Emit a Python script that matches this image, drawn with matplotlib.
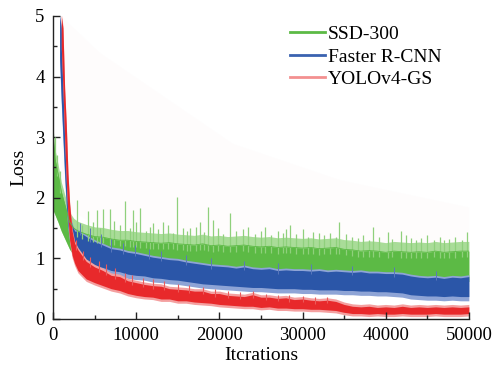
import numpy as np
import matplotlib
matplotlib.use("Agg")
import matplotlib.pyplot as plt
from matplotlib.lines import Line2D
from matplotlib.ticker import MultipleLocator

plt.rcParams['font.family'] = ['Liberation Serif', 'DejaVu Serif']

# --- DATA ---
grid = list(range(3000, 50001, 1000))

# YOLOv4-GS band
red_it = [1000, 1200, 1400, 1600, 1800, 2000, 2300, 2600] + grid
red_lo = [4.5, 3.8, 3.0, 2.3, 1.7, 1.3, 1.05, 0.92,
          0.80, 0.66, 0.60, 0.55, 0.50, 0.47, 0.42, 0.39, 0.37, 0.36, 0.33, 0.33,
          0.30, 0.30, 0.28, 0.27, 0.26, 0.24, 0.23, 0.22, 0.21, 0.21, 0.19, 0.20,
          0.18, 0.18, 0.17, 0.17, 0.16, 0.16, 0.15, 0.14, 0.11, 0.09, 0.09, 0.08,
          0.09, 0.08, 0.08, 0.09, 0.08, 0.08, 0.08, 0.09, 0.08, 0.08, 0.08, 0.09]
red_hi = [5.0, 4.8, 3.8, 3.2, 2.4, 1.9, 1.45, 1.25,
          1.14, 0.95, 0.86, 0.80, 0.72, 0.70, 0.63, 0.60, 0.57, 0.55, 0.54, 0.50,
          0.49, 0.48, 0.46, 0.46, 0.42, 0.42, 0.39, 0.38, 0.37, 0.40, 0.36, 0.36,
          0.34, 0.35, 0.32, 0.33, 0.31, 0.30, 0.31, 0.29, 0.24, 0.21, 0.20, 0.21,
          0.19, 0.20, 0.19, 0.21, 0.19, 0.20, 0.19, 0.20, 0.19, 0.20, 0.19, 0.20]
red_spike_it = [2800, 3600, 4400, 5500, 6400, 7500, 8600, 9500, 10800, 12000,
                13400, 15000, 16400, 18000, 19500, 21000, 22500, 24000, 25600, 27000,
                28400, 30000, 31500, 33000]
red_spike_top = [1.30, 1.12, 1.02, 0.95, 0.90, 0.84, 0.76, 0.72, 0.68, 0.66,
                 0.62, 0.58, 0.56, 0.53, 0.50, 0.47, 0.45, 0.46, 0.42, 0.40,
                 0.39, 0.38, 0.36, 0.36]

# Faster R-CNN band
blue_it = [800, 1000, 1200, 1400, 1600, 1800, 2000, 2300, 2600] + grid
blue_lo = [4.3, 3.6, 3.0, 2.4, 1.9, 1.55, 1.35, 1.15, 1.05,
           1.00, 0.93, 0.88, 0.85, 0.80, 0.78, 0.74, 0.72, 0.71, 0.68, 0.67, 0.65,
           0.64, 0.62, 0.60, 0.58, 0.57, 0.56, 0.55, 0.54, 0.53, 0.52, 0.52, 0.51,
           0.50, 0.50, 0.50, 0.49, 0.49, 0.48, 0.48, 0.48, 0.47, 0.47, 0.46, 0.46,
           0.45, 0.45, 0.44, 0.43, 0.40, 0.39, 0.38, 0.38, 0.37, 0.38, 0.37, 0.37]
blue_hi = [5.0, 4.8, 4.0, 3.2, 2.6, 2.1, 1.75, 1.55, 1.45,
           1.45, 1.36, 1.28, 1.22, 1.16, 1.14, 1.10, 1.08, 1.05, 1.02, 1.00, 0.98,
           0.97, 0.94, 0.92, 0.90, 0.88, 0.87, 0.86, 0.84, 0.86, 0.83, 0.82, 0.83,
           0.80, 0.81, 0.80, 0.80, 0.79, 0.80, 0.78, 0.79, 0.78, 0.77, 0.78, 0.76,
           0.76, 0.75, 0.75, 0.74, 0.71, 0.69, 0.68, 0.69, 0.67, 0.69, 0.68, 0.70]
blue_spike_it = [3200, 4500, 5800, 7000, 8400, 9800, 11500, 13000, 16000, 19000,
                 23000, 27000, 31000, 36000, 41000, 46000]
blue_spike_top = [1.58, 1.50, 1.40, 1.32, 1.26, 1.22, 1.16, 1.12, 1.06, 1.00,
                  0.96, 0.93, 0.90, 0.88, 0.85, 0.80]

# SSD-300 band
green_it = [0, 300, 600, 1000, 1500, 2000, 2500] + grid
green_lo = [1.8, 1.7, 1.6, 1.45, 1.3, 1.15, 1.05,
            0.95, 0.92, 0.90, 0.88, 0.86, 0.84, 0.82, 0.80, 0.79, 0.78, 0.77, 0.76,
            0.75, 0.74, 0.73, 0.72, 0.71, 0.70, 0.70, 0.69, 0.69, 0.68, 0.68, 0.67,
            0.67, 0.66, 0.66, 0.66, 0.65, 0.65, 0.65, 0.64, 0.64, 0.64, 0.63, 0.63,
            0.63, 0.63, 0.62, 0.62, 0.62, 0.62, 0.62, 0.62, 0.62, 0.62, 0.62, 0.62]
green_hi = [3.0, 2.6, 2.4, 2.1, 1.85, 1.6, 1.5,
            1.45, 1.40, 1.36, 1.35, 1.32, 1.30, 1.30, 1.28, 1.27, 1.26, 1.25, 1.26,
            1.24, 1.23, 1.22, 1.24, 1.21, 1.22, 1.20, 1.21, 1.22, 1.20, 1.19, 1.20,
            1.18, 1.19, 1.18, 1.17, 1.18, 1.16, 1.17, 1.18, 1.15, 1.14, 1.12, 1.13,
            1.12, 1.10, 1.12, 1.11, 1.10, 1.11, 1.10, 1.12, 1.10, 1.11, 1.12, 1.12]

# SSD-300 spikes (iteration, peak loss)
spike_it = [200, 500, 900, 2900, 3500, 4200, 4800, 5300, 5700, 6000,
            6800, 7300, 8100, 8700, 9200, 9600, 10000, 10500, 11200, 11700,
            12000, 12600, 13200, 13800, 14400, 14900, 15600, 16100, 16500, 17200,
            17700, 18200, 18600, 19200, 19800, 20500, 21300, 22000, 22800, 23500,
            24300, 25000, 25500, 26200, 27000, 27600, 28000, 28500, 29200, 30000,
            30700, 31300, 32000, 32600, 33300, 34000, 34400, 35200, 36000, 36700,
            37300, 38000, 38500, 39200, 40300, 40800, 41800, 42400, 43000, 43600,
            44300, 45000, 45800, 46500, 47000, 47600, 48300, 49200, 49800]
spike_top = [3.00, 2.70, 2.45, 1.96, 1.55, 1.78, 1.60, 1.80, 1.50, 1.82,
             1.82, 1.62, 1.55, 1.95, 1.50, 1.80, 1.60, 1.83, 1.45, 1.52,
             1.58, 1.48, 1.60, 1.55, 1.42, 2.01, 1.50, 1.46, 1.50, 1.52,
             1.60, 1.44, 1.85, 1.63, 1.50, 1.40, 1.75, 1.45, 1.48, 1.52,
             1.40, 1.46, 1.52, 1.38, 1.45, 1.42, 1.48, 1.55, 1.40, 1.48,
             1.36, 1.44, 1.42, 1.38, 1.42, 1.35, 1.60, 1.40, 1.35, 1.34,
             1.38, 1.30, 1.52, 1.36, 1.43, 1.32, 1.45, 1.38, 1.33, 1.30,
             1.34, 1.38, 1.30, 1.36, 1.30, 1.32, 1.35, 1.30, 1.43]

# faint dotted region behind the curves
ghost_it = [1000, 5600, 21600, 34500, 50000]
ghost_top = [5.0, 4.4, 2.9, 2.3, 1.85]
ghost_bot = [1.9, 1.5, 1.3, 1.2, 1.15]

labels = ['SSD-300', 'Faster R-CNN', 'YOLOv4-GS']
colors = ['#5cba45', '#2b56a8', '#e8292b']
legend_colors = ['#5cba45', '#3a62b0', '#f39090']

# --- PLOTTING ---
fig = plt.figure(figsize=(4.93, 3.72), dpi=100)
ax = fig.add_axes([0.1075, 0.1425, 0.8435, 0.8145])

ax.fill_between(ghost_it, ghost_bot, ghost_top, color='#f4e3e5', alpha=0.08, lw=0)

# SSD-300
base = np.interp(spike_it, green_it, green_hi) - 0.1
ax.vlines(spike_it, base, spike_top, color='#8fd07c', lw=0.9)
ax.fill_between(green_it, green_lo, np.array(green_hi) + 0.16, color='#a9dc98', lw=0)
ax.fill_between(green_it, green_lo, green_hi, color=colors[0], lw=0)
ax.plot(green_it, green_hi, color=colors[0], lw=0.6)

# Faster R-CNN
base = np.interp(blue_spike_it, blue_it, blue_hi) - 0.05
ax.vlines(blue_spike_it, base, blue_spike_top, color='#5a78bc', lw=0.7)
ax.fill_between(blue_it, np.array(blue_lo) - 0.07, np.array(blue_hi) + 0.03,
                color='#8ea4d6', lw=0)
ax.fill_between(blue_it, blue_lo, blue_hi, color=colors[1], lw=0)

# YOLOv4-GS
base = np.interp(red_spike_it, red_it, red_hi) - 0.05
ax.vlines(red_spike_it, base, red_spike_top, color='#ec5a5a', lw=0.8)
ax.fill_between(red_it, np.array(red_lo) - 0.04, np.array(red_hi) + 0.04,
                color='#f4a0a0', lw=0)
ax.fill_between(red_it, red_lo, red_hi, color=colors[2], lw=0)

ax.set_xlim(0, 50000)
ax.set_ylim(0, 5)
ax.xaxis.set_major_locator(MultipleLocator(10000))
ax.xaxis.set_minor_locator(MultipleLocator(5000))
ax.yaxis.set_major_locator(MultipleLocator(1))
ax.yaxis.set_minor_locator(MultipleLocator(0.5))
ax.tick_params(which='both', direction='in', labelsize=13.5, width=1.0, color='#222222')
ax.tick_params(which='major', length=5, pad=6)
ax.tick_params(which='minor', length=3)
ax.spines['top'].set_visible(False)
ax.spines['right'].set_visible(False)
for s in ('left', 'bottom'):
    ax.spines[s].set_linewidth(1.0)
    ax.spines[s].set_color('#222222')

ax.set_xlabel('Itcrations', fontsize=14, labelpad=2)
ax.set_ylabel('Loss', fontsize=14, labelpad=6)

handles = [Line2D([0], [0], color=c, lw=2) for c in legend_colors]
ax.legend(handles, labels, loc='upper left', bbox_to_anchor=(0.588, 0.931),
          bbox_transform=fig.transFigure, frameon=False, fontsize=14,
          handlelength=1.8, handletextpad=0.15, labelspacing=0.25,
          borderpad=0, borderaxespad=0)

fig.savefig('out.png', dpi=100)
